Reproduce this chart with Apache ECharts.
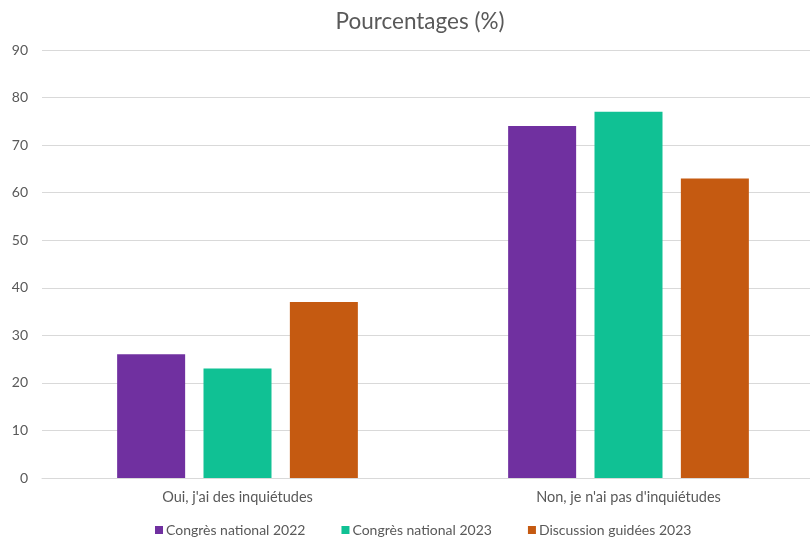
<!DOCTYPE html>
<html>
<head>
<meta charset="utf-8">
<script src="https://cdn.jsdelivr.net/npm/echarts@6/dist/echarts.min.js"></script>
<style>html,body{margin:0;padding:0;background:#fff;overflow:hidden;}#c{width:824px;height:537px;}</style>
</head>
<body>
<div id="c"></div>
<script>
const categories = ["Oui, j'ai des inquiétudes", "Non, je n'ai pas d'inquiétudes"];
const seriesNames = ["Congrès national 2022", "Congrès national 2023", "Discussion guidées 2023"];
const congres2022 = [26, 74];
const congres2023 = [23, 77];
const discussion2023 = [37, 63];
const colors = ['#7030A0', '#10C194', '#C55A11'];

const chart = echarts.init(document.getElementById('c'), null, {renderer: 'canvas'});
const font = 'Lato, "Open Sans", sans-serif';
const values = [congres2022, congres2023, discussion2023];
chart.setOption({
  animation: false,
  textStyle: {fontFamily: font},
  title: {
    text: 'Pourcentages (%)',
    left: 415, top: 5, textAlign: 'center',
    textStyle: {fontFamily: font, fontSize: 22.5, fontWeight: 'normal', color: '#595959'}
  },
  legend: {
    data: seriesNames,
    left: 150, bottom: -5,
    itemWidth: 8, itemHeight: 8, itemGap: 36,
    icon: 'rect',
    textStyle: {fontFamily: font, fontSize: 14, color: '#595959', padding: [0, 0, 0, -2]}
  },
  grid: {left: 42, right: 0, top: 50, bottom: 59, containLabel: false},
  xAxis: {
    type: 'category',
    data: categories,
    axisLine: {lineStyle: {color: '#D9D9D9', width: 1}},
    axisTick: {show: false},
    axisLabel: {fontFamily: font, fontSize: 14.5, color: '#595959', margin: 12}
  },
  yAxis: {
    type: 'value',
    min: 0, max: 90, interval: 10,
    axisLine: {show: false},
    axisTick: {show: false},
    splitLine: {lineStyle: {color: '#D9D9D9', width: 1}},
    axisLabel: {fontFamily: font, fontSize: 14, color: '#595959', margin: 14}
  },
  series: seriesNames.map((n, i) => ({
    name: n,
    type: 'bar',
    data: values[i],
    barWidth: 68,
    barGap: '27%',
    itemStyle: {color: colors[i]}
  }))
});
</script>
</body>
</html>
